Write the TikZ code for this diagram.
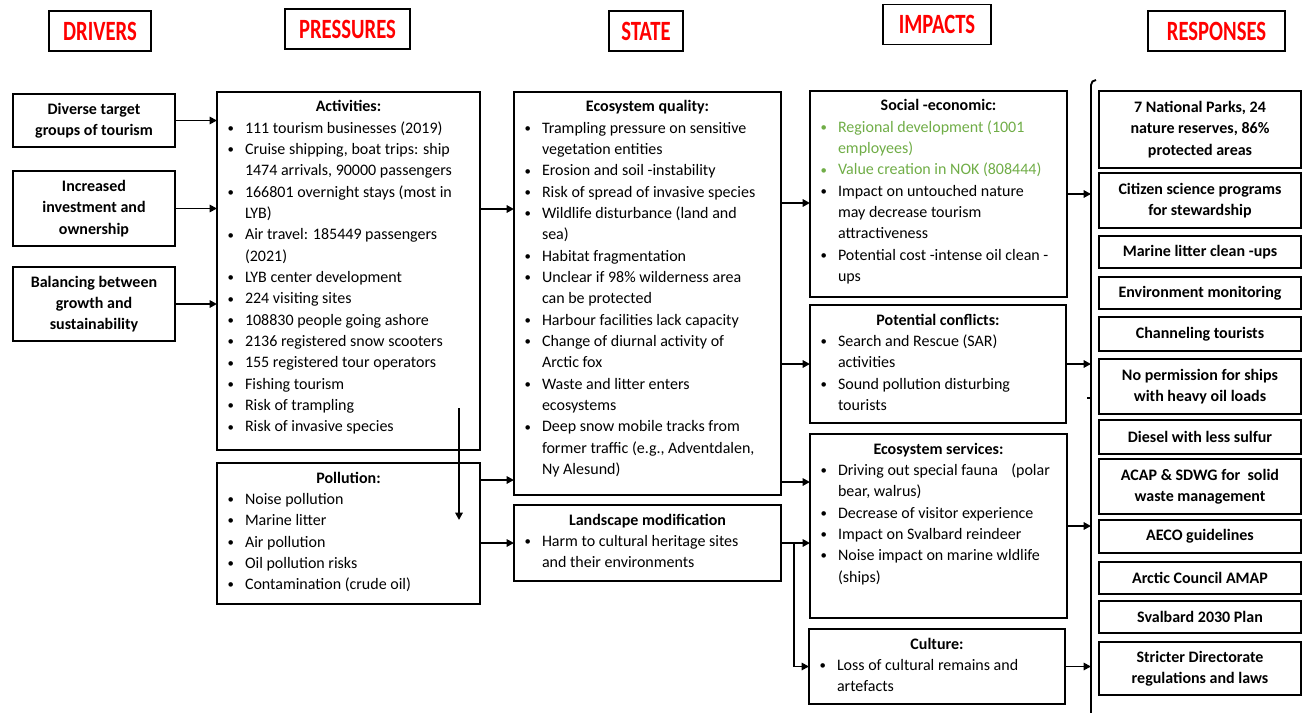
\documentclass[tikz,border=0pt]{standalone}
\usepackage{fontspec}
\setmainfont{Carlito}
\usepackage{graphicx}
\usetikzlibrary{arrows.meta}
\definecolor{okgreen}{HTML}{70AD47}

% boxed bullet lists: fixed-size minipage, bold centred title, hanging bullets
\newcommand{\lbox}[3]{\begin{minipage}[t][#2][t]{#1}\raggedright #3\end{minipage}}
\newcommand{\ttl}[1]{{\centering\bfseries\rule{0pt}{15pt}#1\par}}
\newcommand{\smallbullet}{\raisebox{0.6pt}{\scalebox{0.8}{\textbullet}}}
\newcommand{\itm}[2][black]{\par\noindent\hangindent=21pt\hangafter=1{\color{#1}\let\\\newline\makebox[21pt][l]{\hspace{8pt}\smallbullet}#2}}
\newcommand{\hdtext}[1]{\scalebox{1}[1.35]{#1}}

\begin{document}
\begin{tikzpicture}[x=0.75pt,y=-0.75pt,line width=1.4pt,
  hdr/.style={draw, text=red, inner sep=0pt, minimum height=30pt,
    font=\bfseries\fontsize{15.5}{18}\selectfont},
  drv/.style={draw, align=center, inner sep=0pt, minimum width=121.5pt,
    font=\bfseries\fontsize{12}{16}\selectfont},
  rsp/.style={draw, align=center, inner sep=0pt, minimum width=151.5pt,
    font=\bfseries\fontsize{12}{16}\selectfont},
  lst/.style={draw, inner sep=0pt, outer sep=0pt, anchor=north west,
    font=\fontsize{12}{16}\selectfont},
  arr/.style={-{Triangle[length=5.5pt,width=5.5pt]}}]

\useasboundingbox (0,0) rectangle (1306,713);

% column headings
\node[hdr, minimum width=76.5pt]  (hD) at (100,31)    {\hdtext{DRIVERS}};
\node[hdr, minimum width=93.75pt] (hP) at (347.5,29)  {\hdtext{PRESSURES}};
\node[hdr, minimum width=55.5pt]  (hS) at (646,31)    {\hdtext{STATE}};
\node[hdr, minimum width=81pt]    (hI) at (937,24.5)  {\hdtext{IMPACTS}};
\node[hdr, minimum width=102.75pt](hR) at (1216.5,31) {\hdtext{RESPONSES}};

% drivers
\node[drv, minimum height=39.75pt] (d1) at (94,120.5) {Diverse target\\groups of tourism};
\node[drv, minimum height=56.25pt] (d2) at (94,208.5) {Increased\\investment and\\ownership};
\node[drv, minimum height=55.5pt]  (d3) at (94,304)   {Balancing between\\growth and\\sustainability};

% pressures
\node[lst] (act) at (217,92) {\lbox{197.25pt}{268.5pt}{%
  \ttl{Activities:}
  \itm{111 tourism businesses (2019)}
  \itm{Cruise shipping, boat trips: ship\\1474 arrivals, 90000 passengers}
  \itm{166801 overnight stays (most in\\LYB)}
  \itm{Air travel: 185449 passengers\\(2021)}
  \itm{LYB center development}
  \itm{224 visiting sites}
  \itm{108830 people going ashore}
  \itm{2136 registered snow scooters}
  \itm{155 registered tour operators}
  \itm{Fishing tourism}
  \itm{Risk of trampling}
  \itm{Risk of invasive species}}};
\node[lst] (pol) at (217,463) {\lbox{197.25pt}{105.75pt}{%
  \ttl{Pollution:}
  \itm{Noise pollution}
  \itm{Marine litter}
  \itm{Air pollution}
  \itm{Oil pollution risks}
  \itm{Contamination (crude oil)}}};

% state
\node[lst] (eq) at (514,92) {\lbox{200.25pt}{302.25pt}{%
  \ttl{Ecosystem quality:}
  \itm{Trampling pressure on sensitive\\vegetation entities}
  \itm{Erosion and soil -instability}
  \itm{Risk of spread of invasive species}
  \itm{Wildlife disturbance (land and\\sea)}
  \itm{Habitat fragmentation}
  \itm{Unclear if 98\% wilderness area\\can be protected}
  \itm{Harbour facilities lack capacity}
  \itm{Change of diurnal activity of\\Arctic fox}
  \itm{Waste and litter enters\\ecosystems}
  \itm{Deep snow mobile tracks from\\former traffic (e.g., Adventdalen,\\Ny Alesund)}}};
\node[lst] (lm) at (514,505) {\lbox{200.25pt}{57pt}{%
  \ttl{Landscape modification}
  \itm{Harm to cultural heritage sites\\and their environments}}};

% impacts
\node[lst] (se) at (810,91) {\lbox{192.75pt}{154.5pt}{%
  \ttl{Social -economic:}
  \itm[okgreen]{Regional development (1001\\employees)}
  \itm[okgreen]{Value creation in NOK (808444)}
  \itm{Impact on untouched nature\\may decrease tourism\\attractiveness}
  \itm{Potential cost -intense oil clean -\\ups}}};
\node[lst] (pc) at (810,305) {\lbox{192pt}{88.5pt}{%
  \ttl{Potential conflicts:}
  \itm{Search and Rescue (SAR)\\activities}
  \itm{Sound pollution disturbing\\tourists}}};
\node[lst] (es) at (810,434) {\lbox{192.75pt}{138pt}{%
  \ttl{Ecosystem services:}
  \itm{Driving out special fauna\hspace{0.6em} (polar\\bear, walrus)}
  \itm{Decrease of visitor experience}
  \itm{Impact on Svalbard reindeer}
  \itm{Noise impact on marine wldlife\\(ships)}}};
\node[lst] (cu) at (809,629) {\lbox{192pt}{56.25pt}{%
  \ttl{Culture:}
  \itm{Loss of cultural remains and\\artefacts}}};

% responses
\node[rsp, minimum height=57.75pt] (r1)  at (1200,129.5) {7 National Parks, 24\\nature reserves, 86\%\\protected areas};
\node[rsp, minimum height=41.25pt] (r2)  at (1200,200.5) {Citizen science programs\\for stewardship};
\node[rsp, minimum height=24pt]    (r3)  at (1200,252)   {Marine litter clean -ups};
\node[rsp, minimum height=24pt]    (r4)  at (1200,293)   {Environment monitoring};
\node[rsp, minimum height=25.5pt]  (r5)  at (1200,334)   {Channeling tourists};
\node[rsp, minimum height=41.25pt] (r6)  at (1200,386.5) {No permission for ships\\with heavy oil loads};
\node[rsp, minimum height=25.5pt]  (r7)  at (1200,437)   {Diesel with less sulfur};
\node[rsp, minimum height=41.25pt] (r8)  at (1200,486.5) {ACAP \& SDWG for\ \ solid\\waste management};
\node[rsp, minimum height=24.75pt] (r9)  at (1200,536.5) {AECO guidelines};
\node[rsp, minimum height=24pt]    (r10) at (1200,578)   {Arctic Council AMAP};
\node[rsp, minimum height=24pt]    (r11) at (1200,617)   {Svalbard 2030 Plan};
\node[rsp, minimum height=39.75pt] (r12) at (1200,668.5) {Stricter Directorate\\regulations and laws};

% bracket gathering the responses
\coordinate (brk) at (1091,400);
\draw (1091,713) -- (1091,85) to[out=90,in=180] (1096,80);
\draw (1087,398) -- (brk |- 0,398);

% rows and turning points of the connectors
\coordinate (yA) at (0,209);
\coordinate (yB) at (0,480);
\coordinate (yC) at (0,203);
\coordinate (yD) at (0,482);
\coordinate (fork) at (794,0);
\coordinate (dn1) at (459,408);
\coordinate (dn2) at (459,520);

% drivers -> pressures
\draw[arr] (d1.east) -- (d1.east -| act.west);
\draw[arr] (d2.east) -- (d2.east -| act.west);
\draw[arr] (d3.east) -- (d3.east -| act.west);
% pressures -> state
\draw[arr] (dn1) -- (dn2);
\draw[arr] (act.east |- yA) -- (eq.west |- yA);
\draw[arr] (pol.east |- yB) -- (eq.west |- yB);
\draw[arr] (pol.east |- lm.west) -- (lm.west);
% state -> impacts
\draw[arr] (eq.east |- yC) -- (se.west |- yC);
\draw[arr] (eq.east |- pc.west) -- (pc.west);
\draw[arr] (eq.east |- yD) -- (es.west |- yD);
\draw[arr] (lm.east) -- (es.west |- lm.east);
\draw[arr] (fork |- lm.east) |- (cu.west);
% impacts -> responses
\draw[arr] (se.east) -- (se.east -| brk);
\draw[arr] (pc.east) -- (pc.east -| brk);
\draw[arr] (es.east) -- (es.east -| brk);
\draw[arr] (cu.east) -- (cu.east -| brk);
\end{tikzpicture}
\end{document}
